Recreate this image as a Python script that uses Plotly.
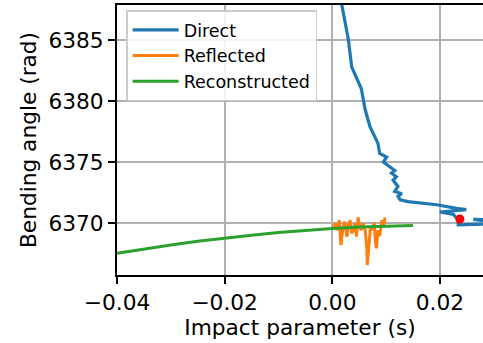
import plotly.graph_objects as go

# ---- data ----
direct_x = [0.0015, 0.0030, 0.0036, 0.0054, 0.0061, 0.0070, 0.0082, 0.0085, 0.0088,
            0.0101, 0.0095, 0.0107, 0.0116, 0.0110, 0.0119, 0.0113, 0.0122, 0.0116,
            0.0129, 0.0122, 0.0126, 0.0141, 0.0194, 0.0231, 0.0249, 0.0200, 0.0225,
            0.0234, 0.0234, 0.0320, 0.0262, 0.0350]
direct_y = [6388.5, 6385.0, 6382.8, 6381.0, 6379.3, 6377.9, 6376.8, 6376.5, 6375.7,
            6375.4, 6375.0, 6374.6, 6374.3, 6374.1, 6373.8, 6373.5, 6373.0, 6372.6,
            6372.4, 6372.2, 6371.9, 6371.75, 6371.5, 6371.2, 6371.1, 6370.9, 6370.7,
            6370.25, 6369.85, 6369.95, 6370.3, 6370.25]

reflected_x = [0.0002, 0.0005, 0.0009, 0.0013, 0.0016, 0.0020, 0.0023, 0.0027, 0.0030,
               0.0033, 0.0036, 0.0039, 0.0042, 0.0045, 0.0048, 0.0051, 0.0054, 0.0057,
               0.0061, 0.0064, 0.0065, 0.0069, 0.0071, 0.0075, 0.0078, 0.0080, 0.0082,
               0.0085, 0.0088, 0.0092, 0.0095, 0.0098]
reflected_y = [6369.56, 6369.97, 6369.42, 6370.24, 6368.19, 6369.70, 6370.11, 6368.88,
               6369.83, 6370.24, 6369.15, 6369.42, 6369.97, 6368.88, 6370.46, 6369.70,
               6369.42, 6369.97, 6369.42, 6368.06, 6366.56, 6368.60, 6369.70, 6369.42,
               6370.03, 6368.60, 6367.92, 6369.42, 6368.93, 6370.24, 6369.70, 6370.46]

recon_x = [-0.040, -0.035, -0.030, -0.025, -0.020, -0.015, -0.010, -0.005, 0.000,
           0.005, 0.010, 0.015]
recon_y = [6367.52, 6367.87, 6368.20, 6368.50, 6368.77, 6369.00, 6369.22, 6369.40,
           6369.56, 6369.67, 6369.75, 6369.80]

marker_x = [0.0237]
marker_y = [6370.33]

x_tickvals = [-0.04, -0.02, 0.00, 0.02]
x_ticktext = ["\u22120.04", "\u22120.02", "0.00", "0.02"]
y_tickvals = [6370, 6375, 6380, 6385]
y_ticktext = ["6370", "6375", "6380", "6385"]

FONT = "DejaVu Sans"
FS = 21.7

fig = go.Figure()
fig.add_trace(go.Scatter(x=direct_x, y=direct_y, mode="lines", name="Direct",
                         line=dict(color="#1f77b4", width=3.2)))
fig.add_trace(go.Scatter(x=reflected_x, y=reflected_y, mode="lines", name="Reflected",
                         line=dict(color="#ff7f0e", width=3)))
fig.add_trace(go.Scatter(x=recon_x, y=recon_y, mode="lines", name="Reconstructed",
                         line=dict(color="#2ca02c", width=3)))
fig.add_trace(go.Scatter(x=marker_x, y=marker_y, mode="markers", showlegend=False,
                         marker=dict(color="#ff0000", size=9)))

fig.update_layout(
    width=483, height=343,
    margin=dict(l=117, r=0, t=5, b=68),
    paper_bgcolor="white", plot_bgcolor="white",
    font=dict(family=FONT, size=FS, color="black"),
    showlegend=True,
    legend=dict(x=0.025, y=0.98, xanchor="left", yanchor="top",
                bgcolor="rgba(255,255,255,0.85)", bordercolor="#cccccc", borderwidth=1.5,
                font=dict(family=FONT, size=17.5, color="black"),
                itemwidth=46, tracegroupgap=0),
)
fig.update_xaxes(range=[-0.04, 0.028], tickvals=x_tickvals, ticktext=x_ticktext,
                 automargin=False,
                 showgrid=True, gridcolor="#b0b0b0", gridwidth=1.6,
                 showline=True, linecolor="black", linewidth=2, mirror=True,
                 ticks="outside", ticklen=7, tickwidth=1.6, tickcolor="black",
                 zeroline=False,
                 title=dict(text="Impact parameter (s)", font=dict(size=FS), standoff=5))
fig.update_yaxes(range=[6365.74, 6387.87], tickvals=y_tickvals, ticktext=y_ticktext,
                 automargin=False,
                 showgrid=True, gridcolor="#b0b0b0", gridwidth=1.6,
                 showline=True, linecolor="black", linewidth=2,
                 ticks="outside", ticklen=7, tickwidth=1.6, tickcolor="black",
                 zeroline=False,
                 title=dict(text="Bending angle (rad)", font=dict(size=FS), standoff=6))

fig.write_html("out.html", config={"displayModeBar": False},
               post_script="document.body.style.margin='0';document.body.style.overflow='hidden';")
